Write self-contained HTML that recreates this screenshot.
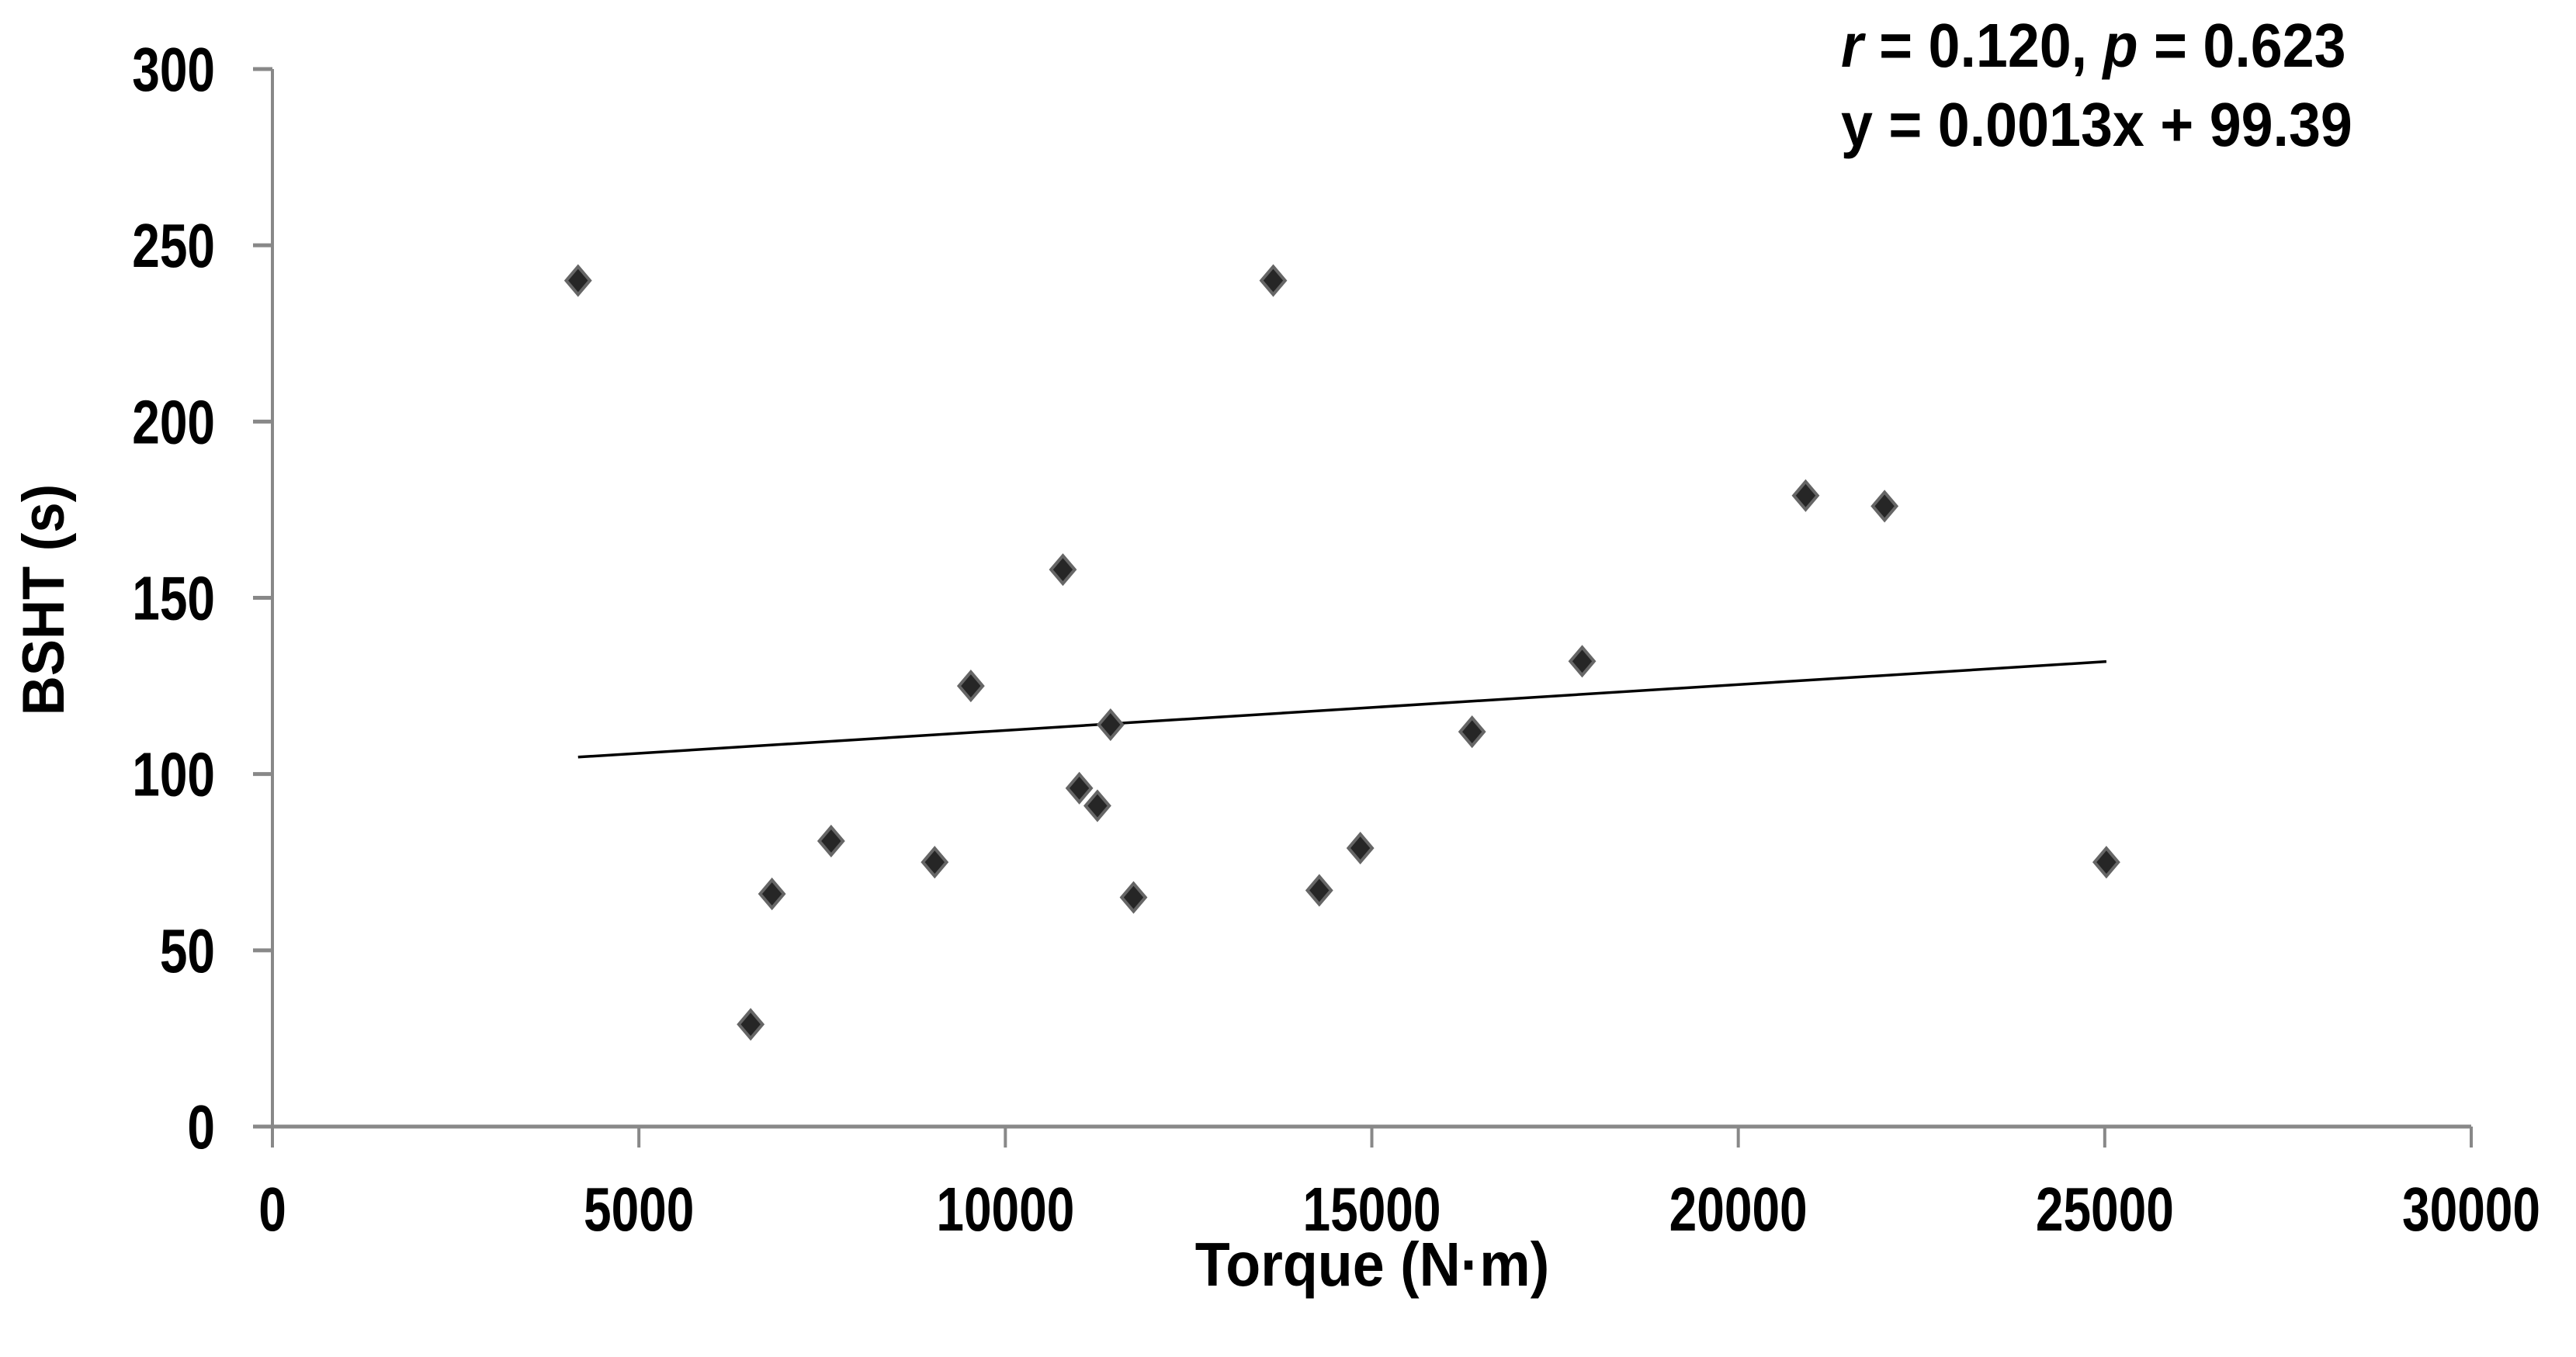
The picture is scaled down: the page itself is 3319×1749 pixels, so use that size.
<!DOCTYPE html>
<html><head><meta charset="utf-8"><style>
html,body{margin:0;padding:0;background:#fff}
svg text{font-family:"Liberation Sans",Arial,sans-serif;font-weight:bold;fill:#000}
</style></head><body>
<svg id="chart" width="3319" height="1744" viewBox="0 0 3319 1744" xmlns="http://www.w3.org/2000/svg">
<g id="axes"></g>
<g id="marks"></g>
<text x="0" y="0" font-size="76" text-anchor="middle" transform="translate(82,773) rotate(-90) scale(0.93,1)">BSHT (s)</text>
<text x="0" y="0" font-size="80" text-anchor="middle" transform="translate(1768,1657) scale(0.92,1)">Torque (N·m)</text>
<text x="0" y="0" font-size="80" transform="translate(2372,86) scale(0.92,1)"><tspan font-style="italic">r</tspan> = 0.120, <tspan font-style="italic">p</tspan> = 0.623</text>
<text x="0" y="0" font-size="80" transform="translate(2372,188) scale(0.92,1)">y = 0.0013x + 99.39</text>
</svg>
<script>
const xTicks = [0,5000,10000,15000,20000,25000,30000];
const yTicks = [0,50,100,150,200,250,300];
const torque = [4170,6525,6816,7623,9036,9529,10785,11009,11256,11435,11749,13655,14283,14843,16368,17870,20919,21996,25022];
const bsht = [240,29,66,81,75,125,158,96,91,114,65,240,67,79,112,132,179,176,75];
const slope = 0.0013, intercept = 99.39;

const X0=351, X1=3184, Y0=1452, Y1=89;
const sx = v => X0 + (v-0)/(30000-0)*(X1-X0);
const sy = v => Y0 - (v-0)/(300-0)*(Y0-Y1);
const NS='http://www.w3.org/2000/svg';
const axes=document.getElementById('axes'), marks=document.getElementById('marks');
function mk(tag, attrs, parent){const e=document.createElementNS(NS,tag);for(const k in attrs)e.setAttribute(k,attrs[k]);parent.appendChild(e);return e;}

let e;
e=mk('line',{x1:X0,y1:Y1,x2:X0,y2:Y0,stroke:'#888','stroke-width':4},axes);


e=mk('line',{x1:X0-25,y1:Y0,x2:X1,y2:Y0,stroke:'#888','stroke-width':5},axes);


yTicks.forEach(t=>{
  const y=sy(t);
  e=mk('line',{x1:X0-25,y1:y,x2:X0,y2:y,stroke:'#888','stroke-width':5},axes);
  
  
  e=mk('text',{x:0,y:0,'font-size':80,'text-anchor':'end',transform:`translate(277,${y+28}) scale(0.8,1)`},axes);
  e.textContent=t;
  
  
});
xTicks.forEach(t=>{
  const x=sx(t);
  e=mk('line',{x1:x,y1:Y0,x2:x,y2:Y0+27,stroke:'#888','stroke-width':4},axes);
  
  
  e=mk('text',{x:0,y:0,'font-size':80,'text-anchor':'middle',transform:`translate(${x},1586) scale(0.8,1)`},axes);
  e.textContent=t;
  
  
});
const xmin=Math.min(...torque), xmax=Math.max(...torque);
e=mk('line',{x1:sx(xmin),y1:sy(slope*xmin+intercept),x2:sx(xmax),y2:sy(slope*xmax+intercept),stroke:'#000','stroke-width':3.5},marks);


torque.forEach((v,i)=>{
  const cx=sx(v), cy=sy(bsht[i]), r=18;
  e=mk('polygon',{points:`${cx},${cy-r} ${cx+r*0.85},${cy} ${cx},${cy+r} ${cx-r*0.85},${cy}`,fill:'#262626',stroke:'#666','stroke-width':4},marks);
  
  
});
</script>
</body></html>
